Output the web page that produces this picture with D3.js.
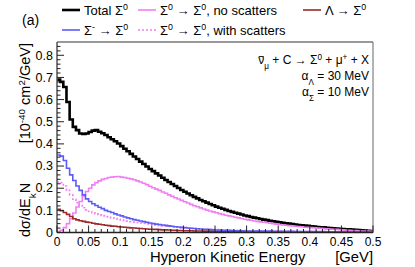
<!DOCTYPE html>
<html><head><meta charset="utf-8">
<script src="https://cdn.jsdelivr.net/npm/d3@7"></script>
<style>
body{margin:0;background:#fff}
svg{display:block}
text{font-family:"Liberation Sans",Arial,Helvetica,sans-serif;fill:#000}
</style>
</head><body>
<svg id="chart" width="415" height="267"></svg>
<script>
// ---------------- DATA ----------------
const binWidth = 0.005; // GeV, 100 bins from 0 to 0.5
const xTickValues = [0, 0.05, 0.1, 0.15, 0.2, 0.25, 0.3, 0.35, 0.4, 0.45, 0.5];
const xTickLabels = ["0", "0.05", "0.1", "0.15", "0.2", "0.25", "0.3", "0.35", "0.4", "0.45", "0.5"];
const yTickValues = [0, 0.1, 0.2, 0.3, 0.4, 0.5, 0.6, 0.7, 0.8];
const yTickLabels = ["0", "0.1", "0.2", "0.3", "0.4", "0.5", "0.6", "0.7", "0.8"];

const totalSigma0 = [
  0.690, 0.680, 0.657, 0.589, 0.510, 0.477, 0.462, 0.447, 0.445, 0.447,
  0.454, 0.460, 0.462, 0.455, 0.448, 0.440, 0.430, 0.421, 0.412, 0.402,
  0.390, 0.378, 0.367, 0.355, 0.343, 0.332, 0.320, 0.309, 0.298, 0.287,
  0.277, 0.267, 0.257, 0.247, 0.237, 0.228, 0.219, 0.210, 0.201, 0.192,
  0.184, 0.176, 0.168, 0.161, 0.154, 0.147, 0.141, 0.135, 0.129, 0.123,
  0.117, 0.112, 0.107, 0.102, 0.097, 0.093, 0.089, 0.085, 0.081, 0.077,
  0.074, 0.070, 0.067, 0.064, 0.061, 0.058, 0.056, 0.053, 0.051, 0.048,
  0.046, 0.044, 0.042, 0.040, 0.038, 0.036, 0.034, 0.033, 0.031, 0.030,
  0.028, 0.027, 0.025, 0.024, 0.023, 0.021, 0.020, 0.019, 0.018, 0.017,
  0.016, 0.015, 0.014, 0.013, 0.012, 0.011, 0.010, 0.009, 0.008, 0.007
];
const sigma0NoScatters = [
  0.004, 0.010, 0.022, 0.040, 0.062, 0.088, 0.115, 0.140, 0.165, 0.185,
  0.200, 0.215, 0.225, 0.233, 0.240, 0.244, 0.248, 0.250, 0.252, 0.253,
  0.250, 0.248, 0.245, 0.242, 0.238, 0.233, 0.228, 0.222, 0.216, 0.209,
  0.202, 0.196, 0.190, 0.183, 0.177, 0.170, 0.163, 0.157, 0.151, 0.145,
  0.139, 0.133, 0.127, 0.121, 0.116, 0.111, 0.106, 0.101, 0.097, 0.093,
  0.089, 0.085, 0.082, 0.078, 0.075, 0.072, 0.069, 0.066, 0.063, 0.060,
  0.057, 0.055, 0.052, 0.050, 0.048, 0.046, 0.044, 0.042, 0.040, 0.038,
  0.036, 0.034, 0.033, 0.031, 0.030, 0.028, 0.027, 0.026, 0.024, 0.023,
  0.022, 0.021, 0.020, 0.019, 0.018, 0.017, 0.016, 0.015, 0.014, 0.013,
  0.012, 0.011, 0.010, 0.009, 0.009, 0.008, 0.007, 0.006, 0.006, 0.005
];
const sigma0WithScatters = [
  0.228, 0.225, 0.210, 0.190, 0.170, 0.150, 0.135, 0.122, 0.112, 0.102,
  0.095, 0.089, 0.084, 0.080, 0.076, 0.072, 0.069, 0.066, 0.063, 0.060,
  0.057, 0.054, 0.051, 0.049, 0.047, 0.045, 0.043, 0.041, 0.039, 0.037,
  0.035, 0.033, 0.032, 0.030, 0.029, 0.027, 0.026, 0.025, 0.024, 0.022,
  0.021, 0.020, 0.019, 0.018, 0.017, 0.016, 0.016, 0.015, 0.014, 0.013,
  0.013, 0.012, 0.012, 0.011, 0.011, 0.010, 0.010, 0.009, 0.009, 0.009,
  0.008, 0.008, 0.008, 0.007, 0.007, 0.007, 0.007, 0.006, 0.006, 0.006,
  0.006, 0.005, 0.005, 0.005, 0.005, 0.005, 0.004, 0.004, 0.004, 0.004,
  0.004, 0.004, 0.003, 0.003, 0.003, 0.003, 0.003, 0.003, 0.003, 0.003,
  0.002, 0.002, 0.002, 0.002, 0.002, 0.002, 0.002, 0.002, 0.002, 0.002
];
const sigmaMinusToSigma0 = [
  0.350, 0.345, 0.325, 0.290, 0.260, 0.235, 0.210, 0.190, 0.170, 0.152,
  0.140, 0.130, 0.122, 0.114, 0.108, 0.100, 0.095, 0.090, 0.084, 0.079,
  0.075, 0.070, 0.066, 0.062, 0.058, 0.055, 0.052, 0.049, 0.046, 0.043,
  0.040, 0.038, 0.036, 0.034, 0.032, 0.030, 0.028, 0.026, 0.025, 0.023,
  0.022, 0.020, 0.019, 0.018, 0.017, 0.016, 0.015, 0.014, 0.013, 0.012,
  0.011, 0.011, 0.010, 0.010, 0.009, 0.009, 0.008, 0.008, 0.008, 0.007,
  0.007, 0.007, 0.007, 0.006, 0.006, 0.006, 0.006, 0.006, 0.005, 0.005,
  0.005, 0.005, 0.005, 0.005, 0.005, 0.004, 0.004, 0.004, 0.004, 0.004,
  0.004, 0.004, 0.004, 0.004, 0.004, 0.003, 0.003, 0.003, 0.003, 0.003,
  0.003, 0.003, 0.003, 0.003, 0.003, 0.003, 0.003, 0.003, 0.003, 0.003
];
const lambdaToSigma0 = [
  0.105, 0.098, 0.090, 0.082, 0.072, 0.062, 0.057, 0.053, 0.050, 0.047,
  0.045, 0.042, 0.039, 0.037, 0.035, 0.033, 0.031, 0.029, 0.028, 0.026,
  0.025, 0.024, 0.022, 0.021, 0.020, 0.019, 0.018, 0.017, 0.016, 0.015,
  0.014, 0.014, 0.013, 0.012, 0.012, 0.011, 0.010, 0.010, 0.009, 0.009,
  0.008, 0.008, 0.008, 0.007, 0.007, 0.007, 0.006, 0.006, 0.006, 0.005,
  0.005, 0.005, 0.005, 0.005, 0.004, 0.004, 0.004, 0.004, 0.004, 0.004,
  0.003, 0.003, 0.003, 0.003, 0.003, 0.003, 0.003, 0.003, 0.003, 0.003,
  0.003, 0.003, 0.003, 0.003, 0.002, 0.002, 0.002, 0.002, 0.002, 0.002,
  0.002, 0.002, 0.002, 0.002, 0.002, 0.002, 0.002, 0.002, 0.002, 0.002,
  0.002, 0.002, 0.002, 0.002, 0.002, 0.002, 0.002, 0.002, 0.002, 0.002
];

// ---------------- LAYOUT ----------------
const svg = d3.select("#chart");
const L = 57, R = 373, T = 42, B = 232.5;
const x = d3.scaleLinear().domain([0, 0.5]).range([L, R]);
const y = d3.scaleLinear().domain([0, 0.86]).range([B, T]);

// rich text helper: segments [text, mode] mode: "", "sup", "sub"
function rich(sel, segs, size) {
  segs.forEach(([t, m]) => {
    const ts = sel.append("tspan").text(t);
    if (m === "sup") ts.attr("font-size", size * 0.68).attr("baseline-shift", "super");
    else if (m === "sub") ts.attr("font-size", size * 0.68).attr("baseline-shift", "sub");
    else ts.attr("font-size", size);
  });
  return sel;
}

// clip
svg.append("defs").append("clipPath").attr("id", "plotclip")
  .append("rect").attr("x", L).attr("y", T).attr("width", R - L).attr("height", B - T);

// series
const series = [
  { values: totalSigma0, color: "#000000", width: 2.6, dash: null },
  { values: sigma0NoScatters, color: "#f27ff2", width: 1.6, dash: null },
  { values: sigma0WithScatters, color: "#f27ff2", width: 1.6, dash: "2,2" },
  { values: lambdaToSigma0, color: "#9b2a2a", width: 1.6, dash: null },
  { values: sigmaMinusToSigma0, color: "#5c5cf5", width: 1.6, dash: null }
];
const line = d3.line().x(d => x(d[0])).y(d => y(d[1])).curve(d3.curveStepAfter);
const g = svg.append("g").attr("clip-path", "url(#plotclip)");
series.forEach(s => {
  const pts = s.values.map((v, i) => [i * binWidth, v]);
  pts.push([s.values.length * binWidth, s.values[s.values.length - 1]]);
  g.append("path").datum(pts).attr("d", line)
    .attr("fill", "none").attr("stroke", s.color).attr("stroke-width", s.width)
    .attr("stroke-dasharray", s.dash).attr("stroke-linejoin", "miter");
});

// frame
svg.append("line").attr("x1", L).attr("x2", R).attr("y1", T).attr("y2", T).attr("stroke", "#999").attr("stroke-width", 2);
svg.append("line").attr("x1", R).attr("x2", R).attr("y1", T).attr("y2", B).attr("stroke", "#666").attr("stroke-width", 1);
svg.append("line").attr("x1", L).attr("x2", L).attr("y1", T).attr("y2", B).attr("stroke", "#555").attr("stroke-width", 1.5);
svg.append("line").attr("x1", L).attr("x2", R).attr("y1", B).attr("y2", B).attr("stroke", "#222").attr("stroke-width", 1.3);

// x ticks
const xMinor = d3.range(0, 51).map(i => i * 0.01);
svg.append("g").selectAll("line").data(xMinor).join("line")
  .attr("x1", d => x(d)).attr("x2", d => x(d))
  .attr("y1", B).attr("y2", (d, i) => i % 5 === 0 ? B - 7 : B - 3.5)
  .attr("stroke", "#222").attr("stroke-width", 1);
svg.append("g").selectAll("text").data(xTickValues).join("text")
  .attr("x", d => x(d)).attr("y", 246).attr("text-anchor", "middle")
  .attr("font-size", 12).text((d, i) => xTickLabels[i]);

// y ticks
const yMinor = d3.range(0, 43).map(i => i * 0.02);
svg.append("g").selectAll("line").data(yMinor).join("line")
  .attr("y1", d => y(d)).attr("y2", d => y(d))
  .attr("x1", L).attr("x2", (d, i) => i % 5 === 0 ? L + 7 : L + 3.5)
  .attr("stroke", "#222").attr("stroke-width", 1);
svg.append("g").selectAll("text").data(yTickValues).join("text")
  .attr("x", 53).attr("y", d => y(d) + 4.3).attr("text-anchor", "end")
  .attr("font-size", 12.5).text((d, i) => yTickLabels[i]);

// axis titles
svg.append("text").attr("x", 150).attr("y", 262).attr("font-size", 14.8).text("Hyperon Kinetic Energy");
svg.append("text").attr("x", 373).attr("y", 262).attr("font-size", 14.8).attr("text-anchor", "end").text("[GeV]");

const yt1 = svg.append("text").attr("transform", "translate(30,237) rotate(-90)").attr("text-anchor", "start");
rich(yt1, [["dσ/dE", ""], ["k", "sub"], ["N", ""]], 14.5);
const yt2 = svg.append("text").attr("transform", "translate(30,43) rotate(-90)").attr("text-anchor", "end");
rich(yt2, [["[10", ""], ["-40", "sup"], [" cm", ""], ["2", "sup"], ["/GeV]", ""]], 14.5);

// (a)
svg.append("text").attr("x", 22).attr("y", 25).attr("font-size", 14).text("(a)");

// legend
const legend = [
  { c: "#000000", w: 2.6, d: null, x: 62, y: 10, segs: [["Total Σ", ""], ["0", "sup"]] },
  { c: "#f27ff2", w: 1.6, d: null, x: 138, y: 10, segs: [["Σ", ""], ["0", "sup"], [" → Σ", ""], ["0", "sup"], [", no scatters", ""]] },
  { c: "#9b2a2a", w: 1.6, d: null, x: 303, y: 10, segs: [["Λ → Σ", ""], ["0", "sup"]] },
  { c: "#5c5cf5", w: 1.6, d: null, x: 62, y: 30, segs: [["Σ", ""], ["-", "sup"], [" → Σ", ""], ["0", "sup"]] },
  { c: "#f27ff2", w: 1.6, d: "2,2", x: 138, y: 30, segs: [["Σ", ""], ["0", "sup"], [" → Σ", ""], ["0", "sup"], [", with scatters", ""]] }
];
legend.forEach(e => {
  svg.append("line").attr("x1", e.x).attr("x2", e.x + 18).attr("y1", e.y).attr("y2", e.y)
    .attr("stroke", e.c).attr("stroke-width", e.w).attr("stroke-dasharray", e.d);
  const t = svg.append("text").attr("x", e.x + 22).attr("y", e.y + 4.5);
  rich(t, e.segs, 13);
});

// annotation
const aSize = 12;
const a1 = svg.append("text").attr("x", 369).attr("y", 64).attr("text-anchor", "end");
rich(a1, [["ν", ""], ["μ", "sub"], [" + C → Σ", ""], ["0", "sup"], [" + μ", ""], ["+", "sup"], [" + X", ""]], aSize);
// overbar on the antineutrino symbol
const nuBox = a1.node().getExtentOfChar(0);
svg.append("line").attr("x1", nuBox.x + 0.5).attr("x2", nuBox.x + nuBox.width - 0.5)
  .attr("y1", 64 - aSize * 0.62).attr("y2", 64 - aSize * 0.62)
  .attr("stroke", "#000").attr("stroke-width", 0.9);
const a2 = svg.append("text").attr("x", 369).attr("y", 80).attr("text-anchor", "end");
rich(a2, [["α", ""], ["Λ", "sub"], [" = 30 MeV", ""]], aSize);
const a3 = svg.append("text").attr("x", 369).attr("y", 96).attr("text-anchor", "end");
rich(a3, [["α", ""], ["Σ", "sub"], [" = 10 MeV", ""]], aSize);
</script>
</body></html>
